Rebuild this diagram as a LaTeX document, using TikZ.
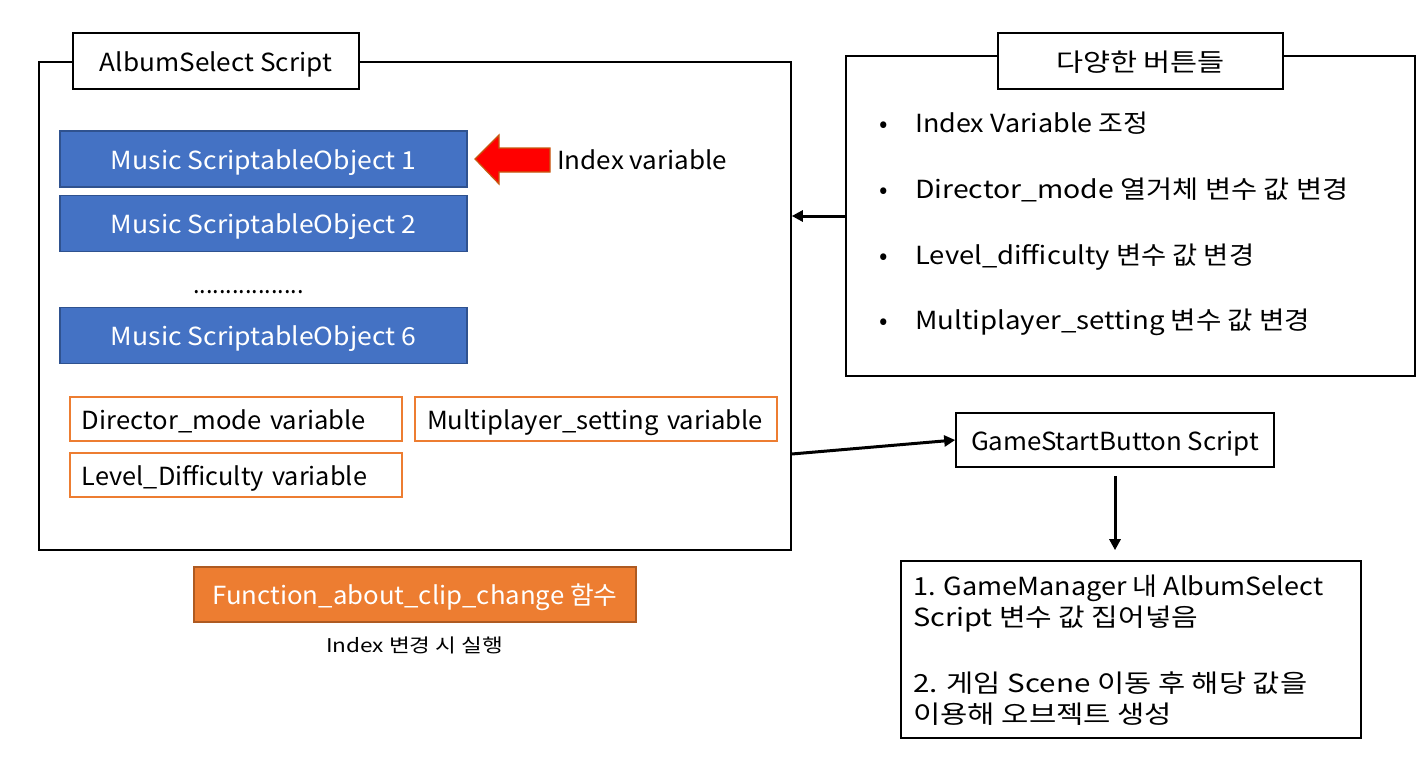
\documentclass[tikz,border=0pt]{standalone}
\usepackage{fontspec}
\usepackage{graphicx}
\setmainfont{Noto Sans CJK KR}
\usetikzlibrary{calc,arrows.meta}
\definecolor{blueF}{HTML}{4472C4}
\definecolor{blueD}{HTML}{2F528F}
\definecolor{orgF}{HTML}{ED7D31}
\definecolor{orgD}{HTML}{AE5A21}
\definecolor{arrD}{HTML}{C55A11}
\newcommand{\hfit}[2]{\resizebox{#1bp}{\height}{#2}}
\tikzset{
  bigfont/.style={font=\fontsize{25}{30}\selectfont,text height=22bp,text depth=2bp},
  frame/.style={draw=black,line width=1.6bp,fill=white,inner sep=0pt,bigfont},
  bluebox/.style={draw=blueD,line width=1.4bp,fill=blueF,text=white,minimum width=407bp,minimum height=56bp,inner sep=0pt,bigfont},
  varbox/.style={draw=orgF,line width=1.6bp,fill=white,minimum height=44bp,inner xsep=12bp,inner ysep=0pt,align=left,bigfont},
  funcbox/.style={draw=orgD,line width=1.4bp,fill=orgF,text=white,minimum width=442bp,minimum height=55bp,inner sep=0pt,bigfont},
  txt/.style={inner sep=0pt,bigfont},
  conn/.style={draw=black,line width=3bp,-{Triangle[length=11bp,width=11bp]}}
}
\begin{document}
\begin{tikzpicture}[x=1bp,y=-1bp]
\useasboundingbox (0,0) rectangle (1428,770);
% main box
\node[frame,minimum width=752bp,minimum height=488bp] (main) at (415,306) {};
\node[frame,minimum width=286bp,minimum height=56bp] (mtitle) at (216,61) {\hfit{232}{AlbumSelect Script}};
\node[bluebox] (m1) at (263.5,159) {\hfit{305}{Music ScriptableObject 1}};
\node[bluebox] (m2) at (263.5,223.5) {\hfit{305}{Music ScriptableObject 2}};
\node[txt] (dots) at (248.5,283) {\hfit{111}{.................}};
\node[bluebox] (m6) at (263.5,335.5) {\hfit{305}{Music ScriptableObject 6}};
\filldraw[fill=red,draw=arrD,line width=1.2bp] (475,159) -- (499,135) -- (499,148) -- (550,148) -- (550,172) -- (499,172) -- (499,184) -- cycle;
\node[txt,anchor=west] (idx) at (557,159) {\hfit{170}{Index variable}};
\node[varbox,minimum width=332bp,text width=308bp] (dm) at (236,419) {\hfit{284}{Director\_mode variable}};
\node[varbox,minimum width=362bp,text width=338bp] (mp) at (596,419) {\hfit{336}{Multiplayer\_setting variable}};
\node[varbox,minimum width=332bp,text width=308bp] (ld) at (236,475) {\hfit{285}{Level\_Difficulty variable}};
\node[funcbox] (fn) at (415,594.5) {\hfit{405}{Function\_about\_clip\_change 함수}};
\node[inner sep=0pt,font=\fontsize{19}{23}\selectfont,text height=15bp,text depth=1bp] (cap) at (414.5,645) {\hfit{177}{Index 변경 시 실행}};
% right box
\node[frame,minimum width=569bp,minimum height=320bp] (rbox) at (1130.5,216) {};
\node[frame,minimum width=285bp,minimum height=56bp] (rtitle) at (1140.5,61) {\hfit{169}{다양한 버튼들}};
\foreach \y/\w/\t [count=\i] in {132/233/{Index Variable 조정},198/433/{Director\_mode 열거체 변수 값 변경},264/339/{Level\_difficulty 변수 값 변경},329/395/{Multiplayer\_setting 변수 값 변경}}{
  \node[inner sep=0pt,font=\fontsize{25}{30}\selectfont,anchor=base] (b\i) at (884,\y) {•};
  \node[inner sep=0pt,font=\fontsize{25}{30}\selectfont,anchor=base west] (t\i) at (915,\y) {\hfit{\w}{\t}};
}
% game start
\node[frame,minimum width=318bp,minimum height=54bp] (gsb) at (1115,440) {\hfit{288}{GameStartButton Script}};
\node[frame,minimum width=460bp,minimum height=177bp] (res) at (1131,649.5) {};
\foreach \y/\w/\t [count=\i] in {595/410/{1. GameManager 내 AlbumSelect},626/285/{Script 변수 값 집어넣음},692/394/{2. 게임 Scene 이동 후 해당 값을},723/259/{이용해 오브젝트 생성}}{
  \node[inner sep=0pt,font=\fontsize{25}{30}\selectfont,anchor=base west] (r\i) at (913,\y) {\hfit{\w}{\t}};
}
% connectors
\draw[conn] (rbox.west) -- (rbox.west -| main.east);
\draw[conn] ($(main.east)+(0,148)$) -- (gsb.west);
\draw[conn] ($(gsb.south)+(0,8)$) -- ($(gsb.south |- res.north)+(0,-10)$);
\end{tikzpicture}
\end{document}
